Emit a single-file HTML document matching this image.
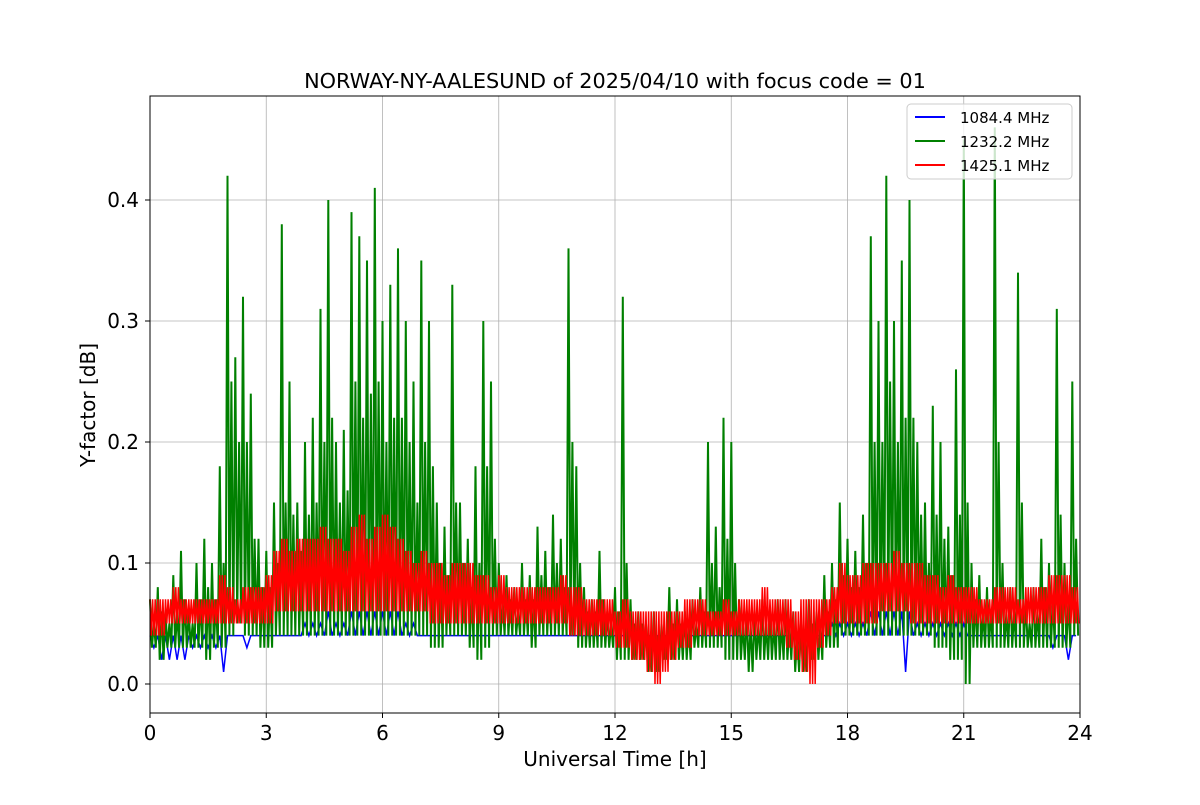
<!DOCTYPE html>
<html><head><meta charset="utf-8"><style>
body{margin:0;background:#fff;}
svg text{font-family:"DejaVu Sans","Liberation Sans",sans-serif;}
</style></head><body>
<svg id="chart" width="1200" height="800" viewBox="0 0 1200 800" xmlns="http://www.w3.org/2000/svg">
<rect width="1200" height="800" fill="#fff"/>
<text x="615" y="88" font-size="20.8" text-anchor="middle">NORWAY-NY-AALESUND of 2025/04/10 with focus code = 01</text>
<g id="grid"></g>
<g id="series"></g>
<rect x="150" y="96" width="930" height="617" fill="none" stroke="#000" stroke-width="1"/>
<g id="ticks"></g>
<text x="615" y="766" font-size="20" text-anchor="middle">Universal Time [h]</text>
<text transform="translate(95,405) rotate(-90)" font-size="20" text-anchor="middle">Y-factor [dB]</text>
<g>
<rect x="907" y="104" width="165" height="75" rx="4" fill="#fff" fill-opacity="0.8" stroke="#ccc"/>
<line x1="915" y1="117" x2="945" y2="117" stroke="#0000ff" stroke-width="2"/>
<text x="960" y="123" font-size="15">1084.4 MHz</text>
<line x1="915" y1="141" x2="945" y2="141" stroke="#008000" stroke-width="2"/>
<text x="960" y="147" font-size="15">1232.2 MHz</text>
<line x1="915" y1="165" x2="945" y2="165" stroke="#ff0000" stroke-width="2"/>
<text x="960" y="171" font-size="15">1425.1 MHz</text>
</g>
</svg>
<script>
const xTicks=[0,3,6,9,12,15,18,21,24];
const yTicks=[0.0,0.1,0.2,0.3,0.4];
const yTickLabels=["0.0","0.1","0.2","0.3","0.4"];
const binHours=0.2;
const greenHi=[0.07,0.08,0.06,0.09,0.11,0.06,0.1,0.12,0.1,0.18,
0.42,0.27,0.32,0.24,0.12,0.11,0.15,0.38,0.25,0.15,
0.2,0.22,0.31,0.4,0.2,0.21,0.39,0.37,0.35,0.41,
0.3,0.33,0.36,0.3,0.25,0.35,0.3,0.15,0.13,0.33,
0.15,0.12,0.18,0.3,0.25,0.1,0.09,0.08,0.1,0.09,
0.13,0.11,0.14,0.12,0.36,0.18,0.08,0.07,0.11,0.06,
0.08,0.32,0.07,0.06,0.05,0.06,0.05,0.08,0.07,0.06,
0.07,0.08,0.2,0.13,0.22,0.2,0.07,0.06,0.06,0.07,
0.06,0.07,0.07,0.06,0.05,0.07,0.06,0.09,0.1,0.15,
0.12,0.11,0.14,0.37,0.3,0.42,0.3,0.35,0.4,0.2,
0.15,0.23,0.2,0.13,0.26,0.45,0.1,0.09,0.08,0.46,
0.1,0.08,0.34,0.07,0.08,0.12,0.1,0.31,0.1,0.25];
const greenMid=[0.05,0.06,0.05,0.06,0.07,0.05,0.07,0.08,0.07,0.1,
0.25,0.2,0.2,0.12,0.08,0.08,0.1,0.15,0.14,0.11,
0.14,0.15,0.2,0.22,0.15,0.16,0.25,0.22,0.24,0.25,
0.2,0.22,0.22,0.2,0.15,0.2,0.18,0.1,0.09,0.15,
0.1,0.08,0.1,0.18,0.12,0.07,0.07,0.06,0.07,0.07,
0.09,0.08,0.1,0.08,0.2,0.1,0.06,0.06,0.07,0.05,
0.06,0.1,0.05,0.05,0.04,0.04,0.04,0.05,0.05,0.05,
0.05,0.06,0.1,0.08,0.12,0.1,0.05,0.05,0.05,0.05,
0.05,0.05,0.05,0.04,0.04,0.05,0.05,0.06,0.07,0.09,
0.08,0.08,0.1,0.2,0.2,0.25,0.2,0.22,0.22,0.14,
0.1,0.14,0.12,0.09,0.14,0.15,0.07,0.06,0.06,0.2,
0.06,0.06,0.15,0.05,0.06,0.08,0.07,0.14,0.07,0.12];
const greenLo=[0.03,0.02,0.03,0.03,0.03,0.03,0.03,0.02,0.03,0.03,
0.04,0.05,0.04,0.04,0.03,0.03,0.04,0.04,0.04,0.04,
0.04,0.04,0.04,0.04,0.04,0.04,0.04,0.04,0.04,0.04,
0.04,0.04,0.04,0.04,0.04,0.04,0.03,0.03,0.04,0.04,
0.04,0.03,0.02,0.03,0.04,0.04,0.04,0.04,0.04,0.03,
0.04,0.04,0.04,0.04,0.04,0.03,0.03,0.03,0.03,0.03,
0.02,0.02,0.02,0.02,0.01,0.01,0.02,0.02,0.02,0.02,
0.03,0.03,0.03,0.03,0.02,0.02,0.02,0.01,0.02,0.02,
0.02,0.02,0.02,0.01,0.01,0.02,0.02,0.03,0.03,0.04,
0.04,0.04,0.04,0.04,0.04,0.04,0.04,0.04,0.04,0.04,
0.04,0.03,0.03,0.02,0.02,0.0,0.03,0.03,0.03,0.03,
0.03,0.03,0.03,0.03,0.03,0.03,0.03,0.03,0.03,0.04];
const redHi=[0.07,0.07,0.07,0.08,0.07,0.07,0.07,0.07,0.07,0.09,
0.08,0.07,0.08,0.08,0.08,0.09,0.11,0.12,0.11,0.12,
0.12,0.12,0.13,0.12,0.12,0.11,0.13,0.14,0.12,0.13,
0.14,0.13,0.12,0.11,0.1,0.11,0.1,0.1,0.09,0.1,
0.1,0.1,0.09,0.09,0.08,0.09,0.08,0.08,0.08,0.08,
0.08,0.08,0.08,0.09,0.08,0.08,0.07,0.07,0.07,0.07,
0.06,0.07,0.06,0.06,0.06,0.06,0.06,0.06,0.06,0.07,
0.07,0.07,0.06,0.06,0.07,0.06,0.07,0.07,0.07,0.08,
0.07,0.07,0.07,0.06,0.07,0.07,0.07,0.07,0.08,0.1,
0.09,0.09,0.1,0.1,0.1,0.1,0.11,0.1,0.1,0.1,
0.09,0.09,0.08,0.09,0.08,0.08,0.08,0.07,0.07,0.08,
0.08,0.08,0.07,0.08,0.08,0.08,0.09,0.09,0.09,0.08];
const redLo=[0.04,0.04,0.05,0.05,0.05,0.05,0.05,0.05,0.05,0.05,
0.05,0.05,0.05,0.05,0.05,0.05,0.06,0.06,0.06,0.06,
0.06,0.06,0.06,0.06,0.06,0.06,0.06,0.06,0.06,0.06,
0.06,0.06,0.06,0.06,0.06,0.06,0.05,0.05,0.05,0.05,
0.05,0.05,0.05,0.05,0.05,0.05,0.05,0.05,0.05,0.05,
0.05,0.05,0.05,0.05,0.04,0.04,0.04,0.04,0.04,0.04,
0.03,0.03,0.02,0.02,0.01,0.0,0.01,0.02,0.03,0.03,
0.04,0.04,0.04,0.04,0.04,0.04,0.04,0.04,0.04,0.04,
0.04,0.04,0.03,0.02,0.01,0.0,0.03,0.04,0.05,0.05,
0.05,0.05,0.05,0.05,0.06,0.06,0.06,0.06,0.05,0.05,
0.05,0.05,0.05,0.05,0.05,0.05,0.05,0.05,0.05,0.05,
0.05,0.05,0.05,0.05,0.05,0.05,0.05,0.05,0.05,0.05];
const blueHi=[0.04,0.04,0.04,0.04,0.04,0.04,0.04,0.04,0.04,0.04,
0.04,0.04,0.04,0.04,0.04,0.04,0.04,0.04,0.04,0.04,
0.05,0.05,0.05,0.06,0.05,0.05,0.06,0.06,0.06,0.06,
0.06,0.06,0.06,0.05,0.05,0.04,0.04,0.04,0.04,0.04,
0.04,0.04,0.04,0.04,0.04,0.04,0.04,0.04,0.04,0.04,
0.04,0.04,0.04,0.04,0.04,0.04,0.04,0.04,0.04,0.04,
0.04,0.04,0.04,0.04,0.04,0.04,0.04,0.04,0.04,0.04,
0.04,0.04,0.04,0.04,0.04,0.04,0.04,0.04,0.04,0.04,
0.04,0.04,0.04,0.04,0.04,0.04,0.04,0.04,0.05,0.05,
0.05,0.05,0.05,0.06,0.06,0.06,0.06,0.06,0.06,0.05,
0.05,0.05,0.05,0.05,0.05,0.05,0.04,0.04,0.04,0.04,
0.04,0.04,0.04,0.04,0.04,0.04,0.04,0.04,0.04,0.04];
const blueLo=[0.03,0.02,0.02,0.02,0.02,0.03,0.03,0.03,0.03,0.01,
0.04,0.04,0.03,0.04,0.04,0.04,0.04,0.04,0.04,0.04,
0.04,0.04,0.04,0.04,0.04,0.04,0.04,0.04,0.04,0.04,
0.04,0.04,0.04,0.04,0.04,0.04,0.04,0.04,0.04,0.04,
0.04,0.04,0.04,0.04,0.04,0.04,0.04,0.04,0.04,0.04,
0.04,0.04,0.04,0.04,0.04,0.04,0.04,0.04,0.04,0.04,
0.04,0.04,0.04,0.04,0.04,0.04,0.04,0.04,0.04,0.04,
0.04,0.04,0.04,0.04,0.04,0.04,0.04,0.04,0.04,0.04,
0.04,0.04,0.04,0.04,0.04,0.04,0.04,0.04,0.04,0.04,
0.04,0.04,0.04,0.04,0.04,0.04,0.04,0.01,0.04,0.04,
0.04,0.04,0.04,0.04,0.04,0.04,0.04,0.04,0.04,0.04,
0.04,0.04,0.04,0.04,0.04,0.04,0.03,0.04,0.02,0.04];

const NS="http://www.w3.org/2000/svg";
const X0=150,X1=1080,Y0=684,Y4=200;
const xScale=h=>X0+(h/24)*(X1-X0);
const yScale=v=>Y0+(v/0.4)*(Y4-Y0);
const grid=document.getElementById('grid'),ticks=document.getElementById('ticks'),series=document.getElementById('series');

xTicks.forEach(t=>{
  const x=xScale(t);
  const g=document.createElementNS(NS,'line');
  
  
  g.setAttribute('x1',x);g.setAttribute('x2',x);g.setAttribute('y1',96);g.setAttribute('y2',713);
  g.setAttribute('stroke','#b0b0b0');g.setAttribute('stroke-width','0.8');
  grid.appendChild(g);
  const tk=document.createElementNS(NS,'line');
  
  
  tk.setAttribute('x1',x);tk.setAttribute('x2',x);tk.setAttribute('y1',713);tk.setAttribute('y2',718);
  tk.setAttribute('stroke','#000');
  ticks.appendChild(tk);
  const tx=document.createElementNS(NS,'text');
  
  
  tx.setAttribute('x',x);tx.setAttribute('y',740);tx.setAttribute('font-size','20');tx.setAttribute('text-anchor','middle');
  tx.textContent=String(t);
  ticks.appendChild(tx);
});
yTicks.forEach((v,i)=>{
  const y=yScale(v);
  const g=document.createElementNS(NS,'line');
  
  
  g.setAttribute('x1',150);g.setAttribute('x2',1080);g.setAttribute('y1',y);g.setAttribute('y2',y);
  g.setAttribute('stroke','#b0b0b0');g.setAttribute('stroke-width','0.8');
  grid.appendChild(g);
  const tk=document.createElementNS(NS,'line');
  
  
  tk.setAttribute('x1',145);tk.setAttribute('x2',150);tk.setAttribute('y1',y);tk.setAttribute('y2',y);
  tk.setAttribute('stroke','#000');
  ticks.appendChild(tk);
  const tx=document.createElementNS(NS,'text');
  
  
  tx.setAttribute('x',139);tx.setAttribute('y',y+7);tx.setAttribute('font-size','20');tx.setAttribute('text-anchor','end');
  tx.textContent=yTickLabels[i];
  ticks.appendChild(tx);
});

function seriesPath(seqs,color,name,width){
  const k=seqs.length;
  let d='';
  for(let i=0;i<seqs[0].length;i++){
    for(let j=0;j<k;j++){
      const h=Math.min(24,i*binHours+j*binHours/k);
      d+=(d?'L':'M')+xScale(h).toFixed(1)+','+yScale(seqs[j][i]).toFixed(1);
    }
  }
  const p=document.createElementNS(NS,'path');
  
  
  p.setAttribute('d',d);p.setAttribute('fill','none');p.setAttribute('stroke',color);
  p.setAttribute('stroke-width',width);p.setAttribute('stroke-linejoin','miter');
  series.appendChild(p);
}
seriesPath([blueHi,blueLo],'#0000ff','series-1084-mhz','1.5');
seriesPath([greenHi,greenLo,greenMid,greenLo],'#008000','series-1232-mhz','2');
seriesPath([redHi,redLo,redHi,redLo,redHi,redLo],'#ff0000','series-1425-mhz','1.5');
</script>
</body></html>
